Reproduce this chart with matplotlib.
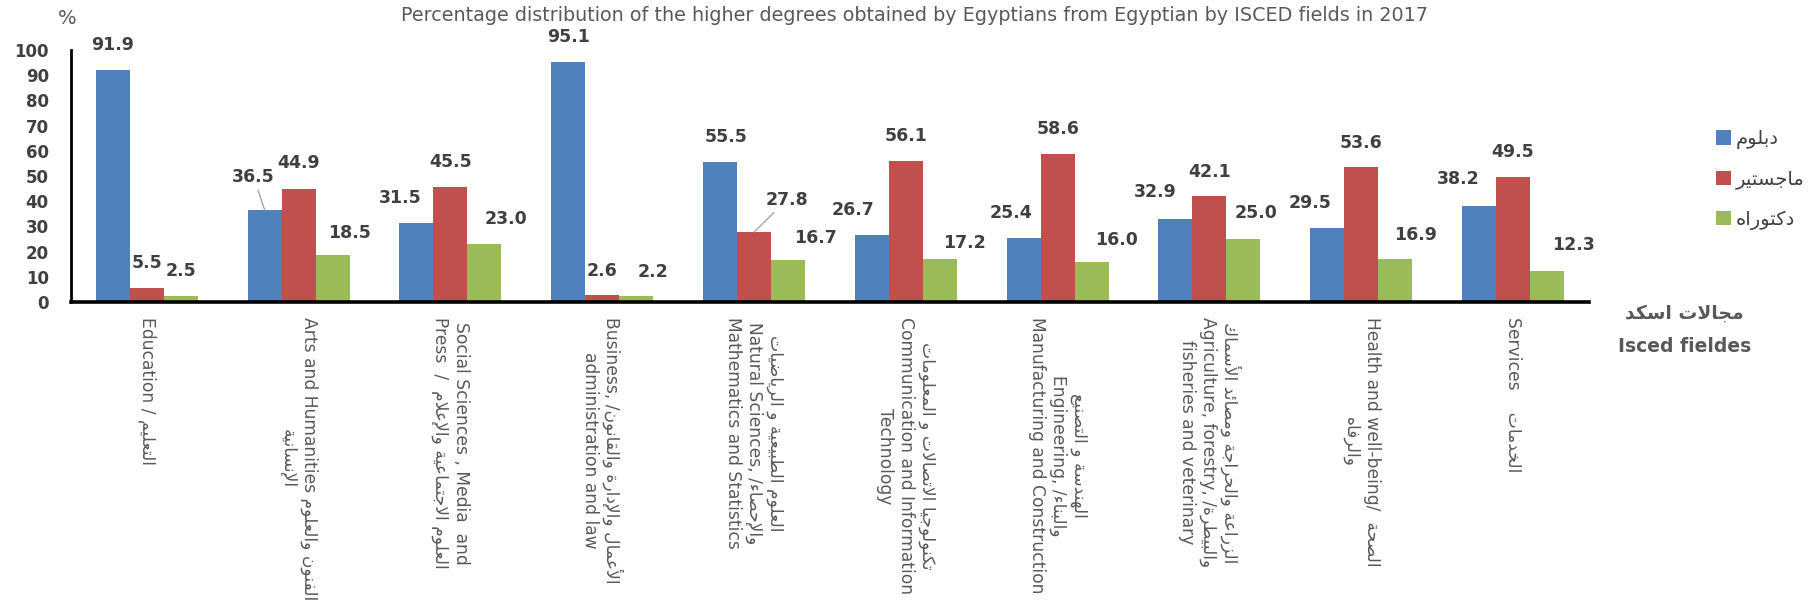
import re
import numpy as np
import matplotlib
matplotlib.use("Agg")
import matplotlib.pyplot as plt
from matplotlib.patches import Patch

# ---- data ----
categories = [
    "Education / التعليم",
    "Arts and Humanities الفنون والعلوم\nالإنسانية",
    "Social Sciences , Media  and\nPress  /  العلوم الاجتماعية والإعلام",
    "Business, /الأعمال والإدارة والقانون\nadministration and law",
    "العلوم الطبيعية و الرياضيات\nNatural Sciences, /والإحصاء\nMathematics and Statistics",
    "تكنولوجيا الاتصالات و المعلومات\nCommunication and Information\nTechnology",
    "الهندسة و التصنيع\nEngineering, /والبناء\nManufacturing and Construction",
    "الزراعة والحراجة ومصائد الأسماك\nAgriculture, forestry, /والبيطرة\nfisheries and veterinary",
    "Health and well-being/  الصحة\nوالرفاه",
    "Services    الخدمات",
]
series_names = ["دبلوم", "ماجستير", "دكتوراه"]
diploma = [91.9, 36.5, 31.5, 95.1, 55.5, 26.7, 25.4, 32.9, 29.5, 38.2]
master = [5.5, 44.9, 45.5, 2.6, 27.8, 56.1, 58.6, 42.1, 53.6, 49.5]
doctorate = [2.5, 18.5, 23.0, 2.2, 16.7, 17.2, 16.0, 25.0, 16.9, 12.3]
yticks = list(range(0, 101, 10))

title = ("Percentage distribution of the higher degrees obtained by Egyptians "
         "from Egyptian by ISCED fields in 2017")

# ---- label placement (pixels from bar top) ----
dx = [[0, -11, -16, 0, 6, -19, -13, -20, -17, -21],
      [0, 0, 0, 0, 33, 0, 0, 0, 0, 0],
      [0, 17, 22, 17, 27, 25, 25, 13, 20, 26]]
dy = [[25, 33, 25, 25, 25, 25, 25, 27, 25, 27],
      [25, 26, 25, 24, 32, 25, 25, 24, 24, 25],
      [25, 22, 25, 24, 22, 16, 22, 26, 24, 26]]
leaders = [(0, 1), (1, 4)]  # (series, category) labels with a leader line

colors = ["#4F81BD", "#C0504D", "#9BBB59"]

# ---- minimal Arabic shaping (presentation forms + visual order) ----
AR = {
    'ء': (0xFE80, 'U'), 'آ': (0xFE81, 'R'), 'أ': (0xFE83, 'R'), 'ؤ': (0xFE85, 'R'),
    'إ': (0xFE87, 'R'), 'ئ': (0xFE89, 'D'), 'ا': (0xFE8D, 'R'), 'ب': (0xFE8F, 'D'),
    'ة': (0xFE93, 'R'), 'ت': (0xFE95, 'D'), 'ث': (0xFE99, 'D'), 'ج': (0xFE9D, 'D'),
    'ح': (0xFEA1, 'D'), 'خ': (0xFEA5, 'D'), 'د': (0xFEA9, 'R'), 'ذ': (0xFEAB, 'R'),
    'ر': (0xFEAD, 'R'), 'ز': (0xFEAF, 'R'), 'س': (0xFEB1, 'D'), 'ش': (0xFEB5, 'D'),
    'ص': (0xFEB9, 'D'), 'ض': (0xFEBD, 'D'), 'ط': (0xFEC1, 'D'), 'ظ': (0xFEC5, 'D'),
    'ع': (0xFEC9, 'D'), 'غ': (0xFECD, 'D'), 'ف': (0xFED1, 'D'), 'ق': (0xFED5, 'D'),
    'ك': (0xFED9, 'D'), 'ل': (0xFEDD, 'D'), 'م': (0xFEE1, 'D'), 'ن': (0xFEE5, 'D'),
    'ه': (0xFEE9, 'D'), 'و': (0xFEED, 'R'), 'ى': (0xFEEF, 'R'), 'ي': (0xFEF1, 'D'),
}
LAM_ALEF = {'آ': 0xFEF5, 'أ': 0xFEF7, 'إ': 0xFEF9, 'ا': 0xFEFB}


def jtype(item):
    if item is None:
        return None
    if item[0] == 'LA':
        return 'R'
    return AR[item[1]][1] if item[1] in AR else None


def shape(run):
    items = []
    i = 0
    while i < len(run):
        c = run[i]
        if c == 'ل' and i + 1 < len(run) and run[i + 1] in LAM_ALEF:
            items.append(('LA', run[i + 1]))
            i += 2
        else:
            items.append(('C', c))
            i += 1
    out = []
    for k, (kind, c) in enumerate(items):
        prev = items[k - 1] if k > 0 else None
        nxt = items[k + 1] if k + 1 < len(items) else None
        jp = jtype(prev) == 'D'
        if kind == 'LA':
            out.append(chr(LAM_ALEF[c] + (1 if jp else 0)))
            continue
        if c not in AR:
            out.append(c)
            continue
        base, t = AR[c]
        jn = t == 'D' and jtype(nxt) in ('D', 'R')
        if t == 'D':
            form = 3 if (jp and jn) else 1 if jp else 2 if jn else 0
        elif t == 'R':
            form = 1 if jp else 0
        else:
            form = 0
        out.append(chr(base + form))
    return ''.join(reversed(out))


ar_run = re.compile(r'[\u0600-\u06FF]+(?:\s+[\u0600-\u06FF]+)*')


def ar(text):
    return '\n'.join(ar_run.sub(lambda m: shape(m.group()), line)
                     for line in text.split('\n'))


# ---- plot ----
plt.rcParams['font.family'] = 'DejaVu Sans'
fig = plt.figure(figsize=(18.11, 6.08), dpi=100)
ax = fig.add_axes([0.0392, 0.5033, 0.8382, 0.4145])

x = np.arange(len(categories))
w = 0.224
values = [diploma, master, doctorate]
for s, vals in enumerate(values):
    xs = x + (s - 1) * w
    ax.bar(xs, vals, width=w, color=colors[s], edgecolor='none', zorder=2)
    for c, v in enumerate(vals):
        kw = {}
        if (s, c) in leaders:
            kw['arrowprops'] = dict(arrowstyle='-', color='#A6A6A6', lw=1,
                                    shrinkA=1, shrinkB=0)
        ax.annotate(f"{v:.1f}", xy=(xs[c], v), xytext=(dx[s][c], dy[s][c]),
                    textcoords='offset pixels', ha='center', va='center',
                    fontsize=12.5, fontweight='bold', color='#404040', **kw)

ax.set_xlim(-0.5, 9.5)
ax.set_ylim(0, 100)
ax.set_yticks(yticks)
ax.tick_params(axis='y', length=0, pad=16, labelsize=12, labelcolor='#404040')
for t in ax.get_yticklabels():
    t.set_fontweight('bold')
ax.set_xticks(x)
ax.set_xticklabels([ar(c) for c in categories], rotation=-90, fontsize=12.3,
                   color='#595959', ha='center', va='top')
for t in ax.get_xticklabels():
    t.set_multialignment('center')
ax.tick_params(axis='x', length=0, pad=11)

for sp in ['top', 'right']:
    ax.spines[sp].set_visible(False)
ax.spines['left'].set_linewidth(2)
ax.spines['bottom'].set_linewidth(2.6)
ax.spines['left'].set_color('black')
ax.spines['bottom'].set_color('black')

fig.text(0.505, 0.975, title, ha='center', va='center', fontsize=13.8, color='#595959')
fig.text(0.037, 0.97, '%', ha='center', va='center', fontsize=14, color='#595959')
fig.text(0.93, 1 - 313 / 608, ar("مجالات اسكد"), ha='center', va='center',
         fontsize=13.5, fontweight='bold', color='#595959')
fig.text(0.93, 1 - 346 / 608, "Isced fieldes", ha='center', va='center',
         fontsize=13.5, fontweight='bold', color='#595959')

handles = [Patch(facecolor=colors[s], edgecolor='none') for s in range(3)]
fig.legend(handles, [ar(n) for n in series_names], loc='upper left',
           bbox_to_anchor=(0.9475, 0.7875), frameon=False, borderpad=0,
           borderaxespad=0, handlelength=0.75, handleheight=0.75,
           handletextpad=0.25, labelspacing=1.05,
           prop={'size': 14}, labelcolor='#404040')

fig.savefig('out.png', dpi=100)
